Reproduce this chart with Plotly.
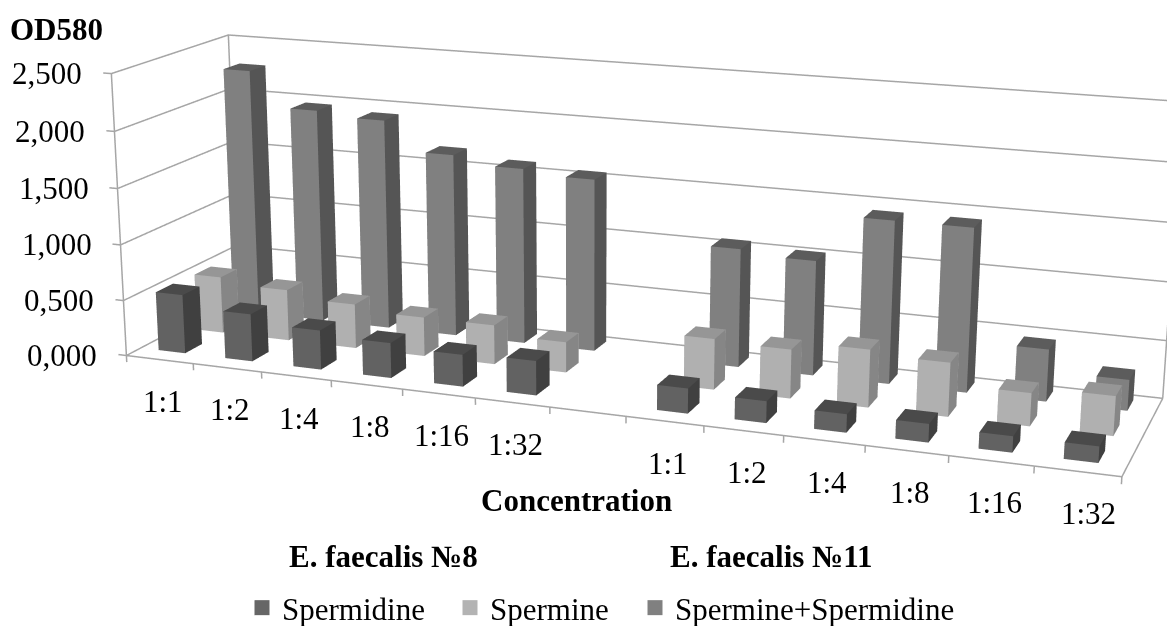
import plotly.graph_objects as go, math
W,H=1167,626
spermidine=[0.53,0.425,0.35,0.31,0.28,0.30,0.215,0.185,0.155,0.155,0.135,0.135]
spermine=[0.516,0.464,0.40,0.35,0.35,0.27,0.443,0.424,0.497,0.46,0.28,0.333]
combo=[2.27,1.955,1.915,1.655,1.585,1.545,1.05,1.01,1.42,1.42,0.45,0.265]
conc=['1:1','1:2','1:4','1:8','1:16','1:32']
ticks=[0,.5,1,1.5,2,2.5]
ticktext=['0,000','0,500','1,000','1,500','2,000','2,500']
series=['Spermidine','Spermine','Spermine+Spermidine']
eye=[0.8002,-2.2085,0.6019];cen=[-0.011,-0.1004,-0.0535];ay,az=0.2357,0.2891
F=2500.
FOVY=2*math.atan(313/F)
BW=(.27,.67);BD=(.36,.80)
def bars(vals,row,col):
    X=[];Y=[];Z=[];I=[];J=[];K=[];FC=[]
    for n,v in enumerate(vals):
        k=n if n<6 else n+1
        x0,x1=k+BW[0],k+BW[1];y0,y1=row+BD[0],row+BD[1]
        b=len(X)
        for z in (0,v):
            for (x,y) in [(x0,y0),(x1,y0),(x1,y1),(x0,y1)]:
                X.append(x);Y.append(y);Z.append(z)
        faces=[(0,1,5,0),(0,5,4,0),(1,2,6,1),(1,6,5,1),(4,5,6,2),(4,6,7,2),(3,2,6,0),(3,6,7,0),(0,3,7,1),(0,7,4,1)]
        for a,bb,c,t in faces:
            I.append(b+a);J.append(b+bb);K.append(b+c);FC.append(col[t])
    return go.Mesh3d(x=X,y=Y,z=Z,i=I,j=J,k=K,facecolor=FC,flatshading=True,lighting=dict(ambient=1,diffuse=0,specular=0,roughness=1,fresnel=0),showlegend=False,hoverinfo='skip')
fig=go.Figure()
fig.add_trace(bars(spermidine,0,['#626262','#404040','#4a4a4a']))
fig.add_trace(bars(spermine,1,['#b0b0b0','#868686','#969696']))
fig.add_trace(bars(combo,2,['#808080','#555555','#5c5c5c']))
L=dict(color='#a6a6a6',width=3)
def line(x,y,z):
    fig.add_trace(go.Scatter3d(x=x,y=y,z=z,mode='lines',line=L,showlegend=False,hoverinfo='skip'))
for z in ticks:
    line([-.12,0,0,13],[0,0,3,3],[z,z,z,z])
line([0,13,13],[0,0,3],[0,0,0])
line([0,0],[0,0],[0,2.5])
line([0,0],[3,3],[0,2.5])
line([13,13],[3,3],[0,2.5])
for k in range(14):
    line([k,k],[0,0],[0,-.06])
cols=['#666666','#b3b3b3','#808080']
for i,(name,c) in enumerate(zip(series,cols)):
    fig.add_trace(go.Scatter3d(x=[None],y=[None],z=[None],mode='markers',name=name,legend='legend' if i==0 else f'legend{i+1}',marker=dict(symbol='square',size=15,color=c)))
ax=dict(visible=False,showgrid=False,showbackground=False,zeroline=False)
FN='Liberation Serif'
sa=[]
for i,k in enumerate(list(range(6))+list(range(7,13))):
    sa.append(dict(x=k+.5,y=0,z=0,text=conc[i%6],showarrow=False,yshift=-42,xshift=3+(8 if k==12 else 0),font=dict(family=FN,size=31,color='#000')))
for z,t in zip(ticks,ticktext):
    sa.append(dict(x=0,y=0,z=z,text=t,showarrow=False,xanchor='right',xshift=-27,font=dict(family=FN,size=31,color='#000')))
def txt(x,y,s):
    return dict(x=x/W,y=1-y/H,xref='paper',yref='paper',xanchor='center',yanchor='middle',text='<b>'+s+'</b>',showarrow=False,font=dict(family=FN,size=31,color='#000'))
an=[txt(56,30,'OD580'),txt(576,500,'Concentration'),txt(383,556,'E. faecalis №8'),txt(771,556,'E. faecalis №11')]
def leg(xp):
    return dict(orientation='h',x=xp/W,y=1-608/H,xanchor='left',yanchor='middle',bgcolor='rgba(0,0,0,0)',font=dict(family=FN,size=31,color='#000'))
fig.update_layout(width=W,height=H,margin=dict(l=0,r=0,t=0,b=0,autoexpand=False),paper_bgcolor='white',
 legend=leg(242),legend2=leg(450),legend3=leg(635),
 scene=dict(domain=dict(x=[0,1],y=[0,1]),xaxis=dict(range=[-.2,13.2],**ax),yaxis=dict(range=[0,3],**ax),zaxis=dict(range=[-.1,2.6],**ax),
 aspectmode='manual',aspectratio=dict(x=13.4/13,y=ay,z=az*2.7/2.5),annotations=sa,
 camera=dict(eye=dict(x=eye[0],y=eye[1],z=eye[2]),center=dict(x=cen[0],y=cen[1],z=cen[2]),up=dict(x=0,y=0,z=1))),
 annotations=an)
post="""document.body.style.margin='0';(function t(){var g=document.getElementById('{plot_id}');var s=g&&g._fullLayout&&g._fullLayout.scene&&g._fullLayout.scene._scene;
if(s&&s.glplot){s.glplot.fovy=%f;s.glplot.redraw();}else{setTimeout(t,20);}})();"""%FOVY
fig.write_html("out.html",post_script=post,config=dict(displayModeBar=False))
